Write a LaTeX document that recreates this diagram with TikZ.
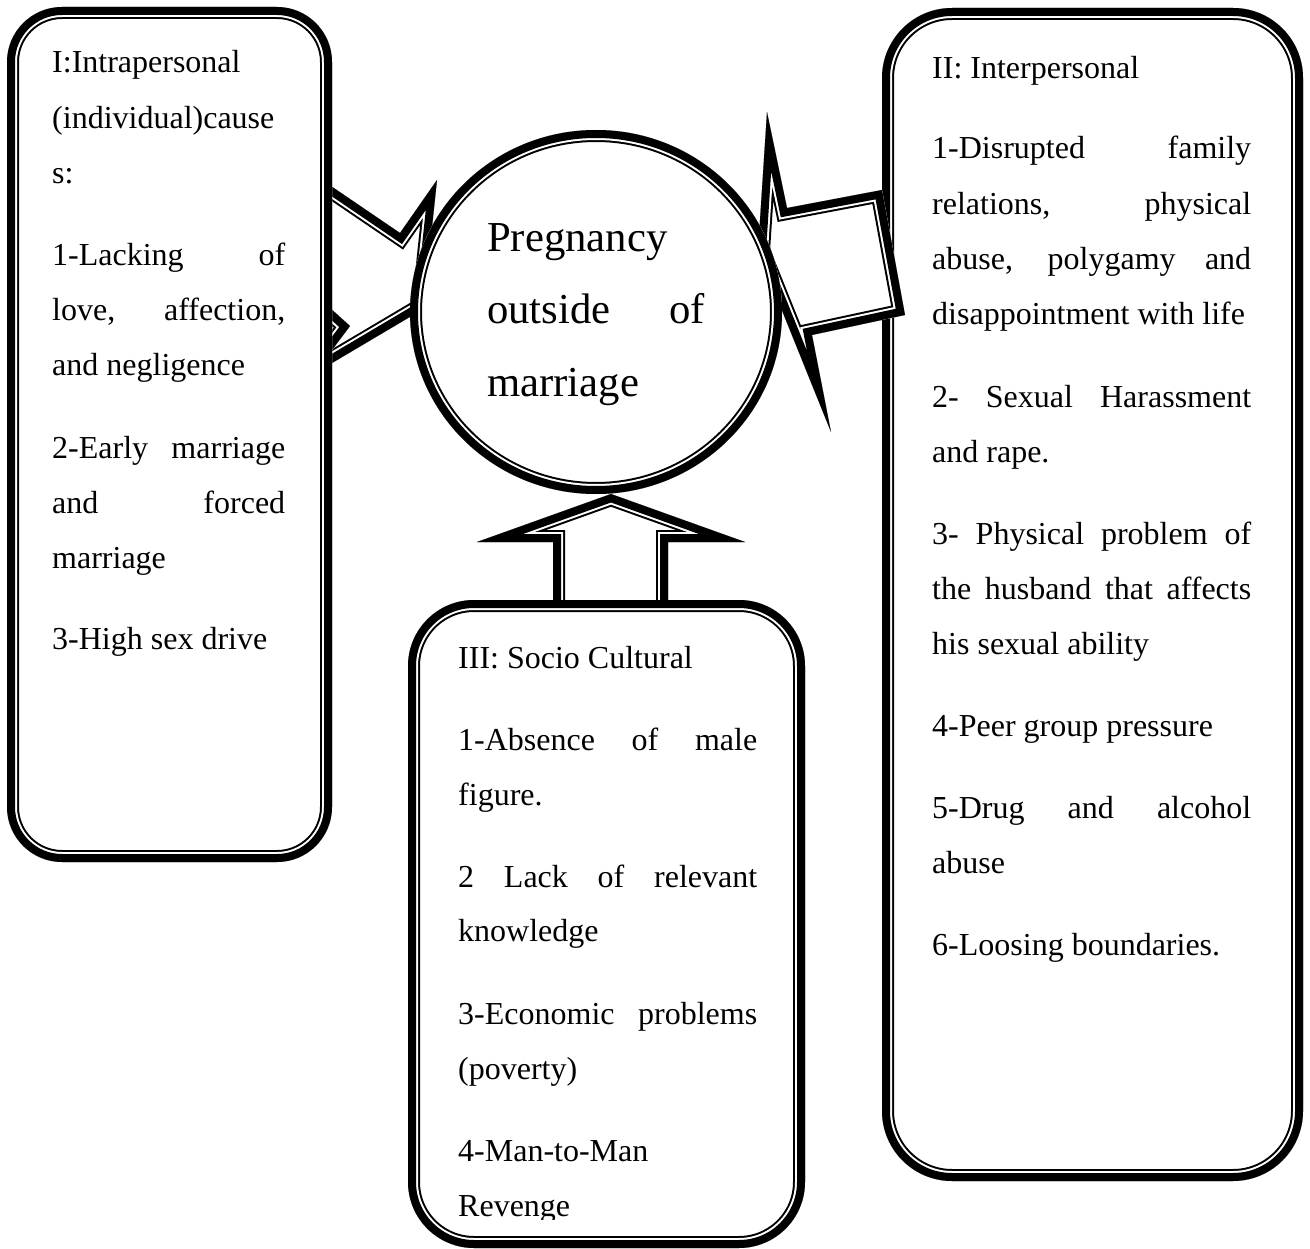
\documentclass[tikz,border=0pt]{standalone}
\usepackage{fontspec}
\setmainfont{Liberation Serif}
\tikzset{
  txt/.style={inner sep=0pt, anchor=base west, font=\fontsize{32}{38}\selectfont},
  ttl/.style={inner sep=0pt, anchor=base west, font=\fontsize{42.7}{50}\selectfont},
  thickthin/.style={line join=miter, miter limit=25},
}
% Shape with a thick outer rule, a thin gap and a thin inner rule:
% the strokes are clipped to the inside of the outline.
\newcommand{\dblshape}[2]{%
  \fill[white,#1] #2;
  \begin{scope}
    \clip[#1] #2;
    \draw[thickthin,#1,line width=24pt] #2;
    \draw[thickthin,#1,white,line width=20pt] #2;
    \draw[thickthin,#1,line width=16pt] #2;
  \end{scope}}
\begin{document}
\begin{tikzpicture}[x=1pt,y=-1pt]
\useasboundingbox[fill=white] (0,0) rectangle (1310,1249);

% arrow from the left box towards the circle
\dblshape{}{(300,165) -- (400,233) -- (437,180) -- (428,265) -- (425,308) -- (300,382) -- cycle}
\dblshape{}{(320,299) -- (350,326) -- (320,366) -- cycle}

% left box
\dblshape{rounded corners=55pt}{(7,7) rectangle (332,862)}

% right box
\dblshape{rounded corners=70pt}{(882,8) rectangle (1303,1181)}

% arrow from the right box towards the circle
\dblshape{}{(767,112) -- (787,208) -- (882,190) -- (905,315) -- (812,335) -- (831,432) -- (758,251) -- cycle}

% upward arrow from the bottom box
\dblshape{}{(611,494) -- (745,542) -- (668,542) -- (668,620) -- (553,620) -- (553,542) -- (477,542) -- cycle}

% bottom box
\dblshape{rounded corners=66pt}{(408,600) rectangle (805,1248)}

% central circle
\dblshape{}{(596,312) ellipse [x radius=186pt, y radius=182pt]}

% central text
\node[ttl] (c1) at (487,252) {Pregnancy};
\node[ttl] (c2) at (487,324) {\makebox[218pt][s]{outside of}};
\node[ttl] (c3) at (487,396) {marriage};

% left box text
\node[txt] (a1) at (52,73) {I:Intrapersonal};
\node[txt] (a2) at (52,129) {(individual)cause};
\node[txt] (a3) at (52,184) {s:};
\node[txt] (a4) at (52,266) {\makebox[233pt][s]{1-Lacking of}};
\node[txt] (a5) at (52,321) {\makebox[233pt][s]{love, affection,}};
\node[txt] (a6) at (52,376) {and negligence};
\node[txt] (a7) at (52,458) {\makebox[233pt][s]{2-Early marriage}};
\node[txt] (a8) at (52,513) {\makebox[233pt][s]{and forced}};
\node[txt] (a9) at (52,568) {marriage};
\node[txt] (a10) at (52,649) {3-High sex drive};

% right box text
\node[txt] (b1) at (932,79) {II: Interpersonal};
\node[txt] (b2) at (932,159) {\makebox[319pt][s]{1-Disrupted family}};
\node[txt] (b3) at (932,215) {\makebox[319pt][s]{relations, physical}};
\node[txt] (b4) at (932,270) {\makebox[319pt][s]{abuse, polygamy and}};
\node[txt] (b5) at (932,325) {disappointment with life};
\node[txt] (b6) at (932,407) {\makebox[319pt][s]{2- Sexual Harassment}};
\node[txt] (b7) at (932,462) {and rape.};
\node[txt] (b8) at (932,544) {\makebox[319pt][s]{3- Physical problem of}};
\node[txt] (b9) at (932,599) {\makebox[319pt][s]{the husband that affects}};
\node[txt] (b10) at (932,654) {his sexual ability};
\node[txt] (b11) at (932,736) {4-Peer group pressure};
\node[txt] (b12) at (932,818) {\makebox[319pt][s]{5-Drug and alcohol}};
\node[txt] (b13) at (932,873) {abuse};
\node[txt] (b14) at (932,955) {6-Loosing boundaries.};

% bottom box text
\node[txt] (d1) at (458,668) {III: Socio Cultural};
\node[txt] (d2) at (458,750) {\makebox[299pt][s]{1-Absence of male}};
\node[txt] (d3) at (458,805) {figure.};
\node[txt] (d4) at (458,887) {\makebox[299pt][s]{2 Lack of relevant}};
\node[txt] (d5) at (458,941) {knowledge};
\node[txt] (d6) at (458,1024) {\makebox[299pt][s]{3-Economic problems}};
\node[txt] (d7) at (458,1079) {(poverty)};
\node[txt] (d8) at (458,1161) {4-Man-to-Man};
\begin{scope}
  \clip (420,1180) rectangle (800,1219);
  \node[txt] (d9) at (458,1216) {Revenge};
\end{scope}
\end{tikzpicture}
\end{document}
